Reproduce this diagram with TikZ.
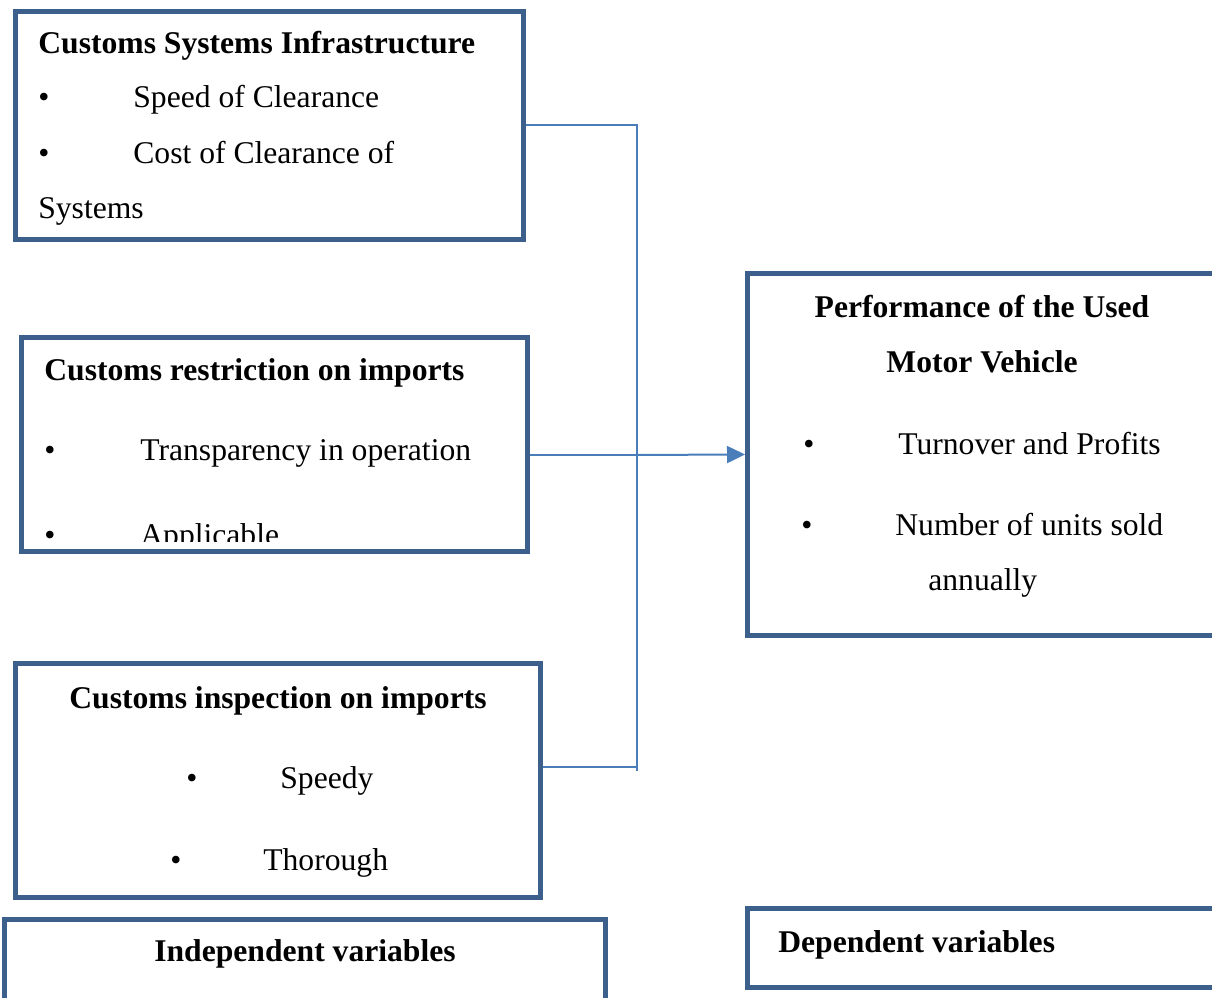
\documentclass[tikz,border=0pt]{standalone}
\usepackage{fontspec}
\setmainfont{Liberation Serif}
\usepackage{tikz}
\usetikzlibrary{calc,arrows.meta}
\definecolor{boxblue}{RGB}{60,95,140}
\definecolor{linkblue}{RGB}{74,126,187}
\tikzset{
  varbox/.style={draw=boxblue, line width=0.1cm, anchor=north west, inner sep=0pt},
  txt/.style={anchor=base west, inner sep=0pt},
  ctxt/.style={anchor=base, inner sep=0pt},
  link/.style={draw=linkblue, line width=0.04cm}
}

\begin{document}
\begin{tikzpicture}[x=0.02cm, y=-0.02cm, font=\fontsize{18}{22}\selectfont]
              \clip (0, 0) rectangle (1212, 997);
              \node (sys) at (13, 9) [varbox, minimum width=10.16cm, minimum height=4.56cm] {};
              \node (res) at (19, 335) [varbox, minimum width=10.12cm, minimum height=4.28cm] {};
              \node (insp) at (13, 661) [varbox, minimum width=10.5cm, minimum height=4.68cm] {};
              \node (indep) at (2, 917) [varbox, minimum width=12.02cm, minimum height=2cm] {};
              \node (perf) at (745, 271) [varbox, minimum width=9.63cm, minimum height=7.24cm] {};
              \node (dep) at (745, 906) [varbox, minimum width=9.63cm, minimum height=1.58cm] {};
              \node (sys title) at (38, 54) [txt] {\textbf{Customs Systems Infrastructure}};
              \node (sys b1) at (38, 108) [txt] {\textbullet};
              \node (sys i1) at (133, 108) [txt] {Speed of Clearance};
              \node (sys b2) at (38, 163) [txt] {\textbullet};
              \node (sys i2) at (133, 163) [txt] {Cost of Clearance of};
              \node (sys i3) at (38, 218) [txt] {Systems};
              \node (res title) at (44, 380) [txt] {\textbf{Customs restriction on imports}};
              \node (res b1) at (44, 460) [txt] {\textbullet};
              \node (res i1) at (140, 460) [txt] {Transparency in operation};
              \begin{scope}
                \clip (0, 0) rectangle (1212, 541);
                \node (res b2) at (44, 545) [txt] {\textbullet};
                \node (res i2) at (140, 545) [txt] {Applicable};
              \end{scope}
              \node (insp title) at (278, 708) [ctxt] {\textbf{Customs inspection on imports}};
              \node (insp b1) at (186, 788) [txt] {\textbullet};
              \node (insp i1) at (280, 788) [txt] {Speedy};
              \node (insp b2) at (170, 870) [txt] {\textbullet};
              \node (insp i2) at (263, 870) [txt] {Thorough};
              \node (indep title) at (305, 961) [ctxt] {\textbf{Independent variables}};
              \node (perf title1) at (982, 317) [ctxt] {\textbf{Performance of the Used}};
              \node (perf title2) at (982, 372) [ctxt] {\textbf{Motor Vehicle}};
              \node (perf b1) at (803, 454) [txt] {\textbullet};
              \node (perf i1) at (898, 454) [txt] {Turnover and Profits};
              \node (perf b2) at (801, 535) [txt] {\textbullet};
              \node (perf i2) at (895, 535) [txt] {Number of units sold};
              \node (perf i3) at (928, 590) [txt] {annually};
              \node (dep title) at (778, 952) [txt] {\textbf{Dependent variables}};
              \coordinate (mid) at (636, 455);
              \coordinate (low) at (637, 767);
              \coordinate (end) at (637, 771);
              \draw[link] (sys.east) -| (end);
              \draw[link] (res.east |- mid) -- (mid);
              \draw[link] (insp.east |- low) -- (low);
              \draw[link, -{Triangle[length=0.36cm, width=0.34cm]}] (mid) -- (perf.west);
            \end{tikzpicture}
\end{document}
